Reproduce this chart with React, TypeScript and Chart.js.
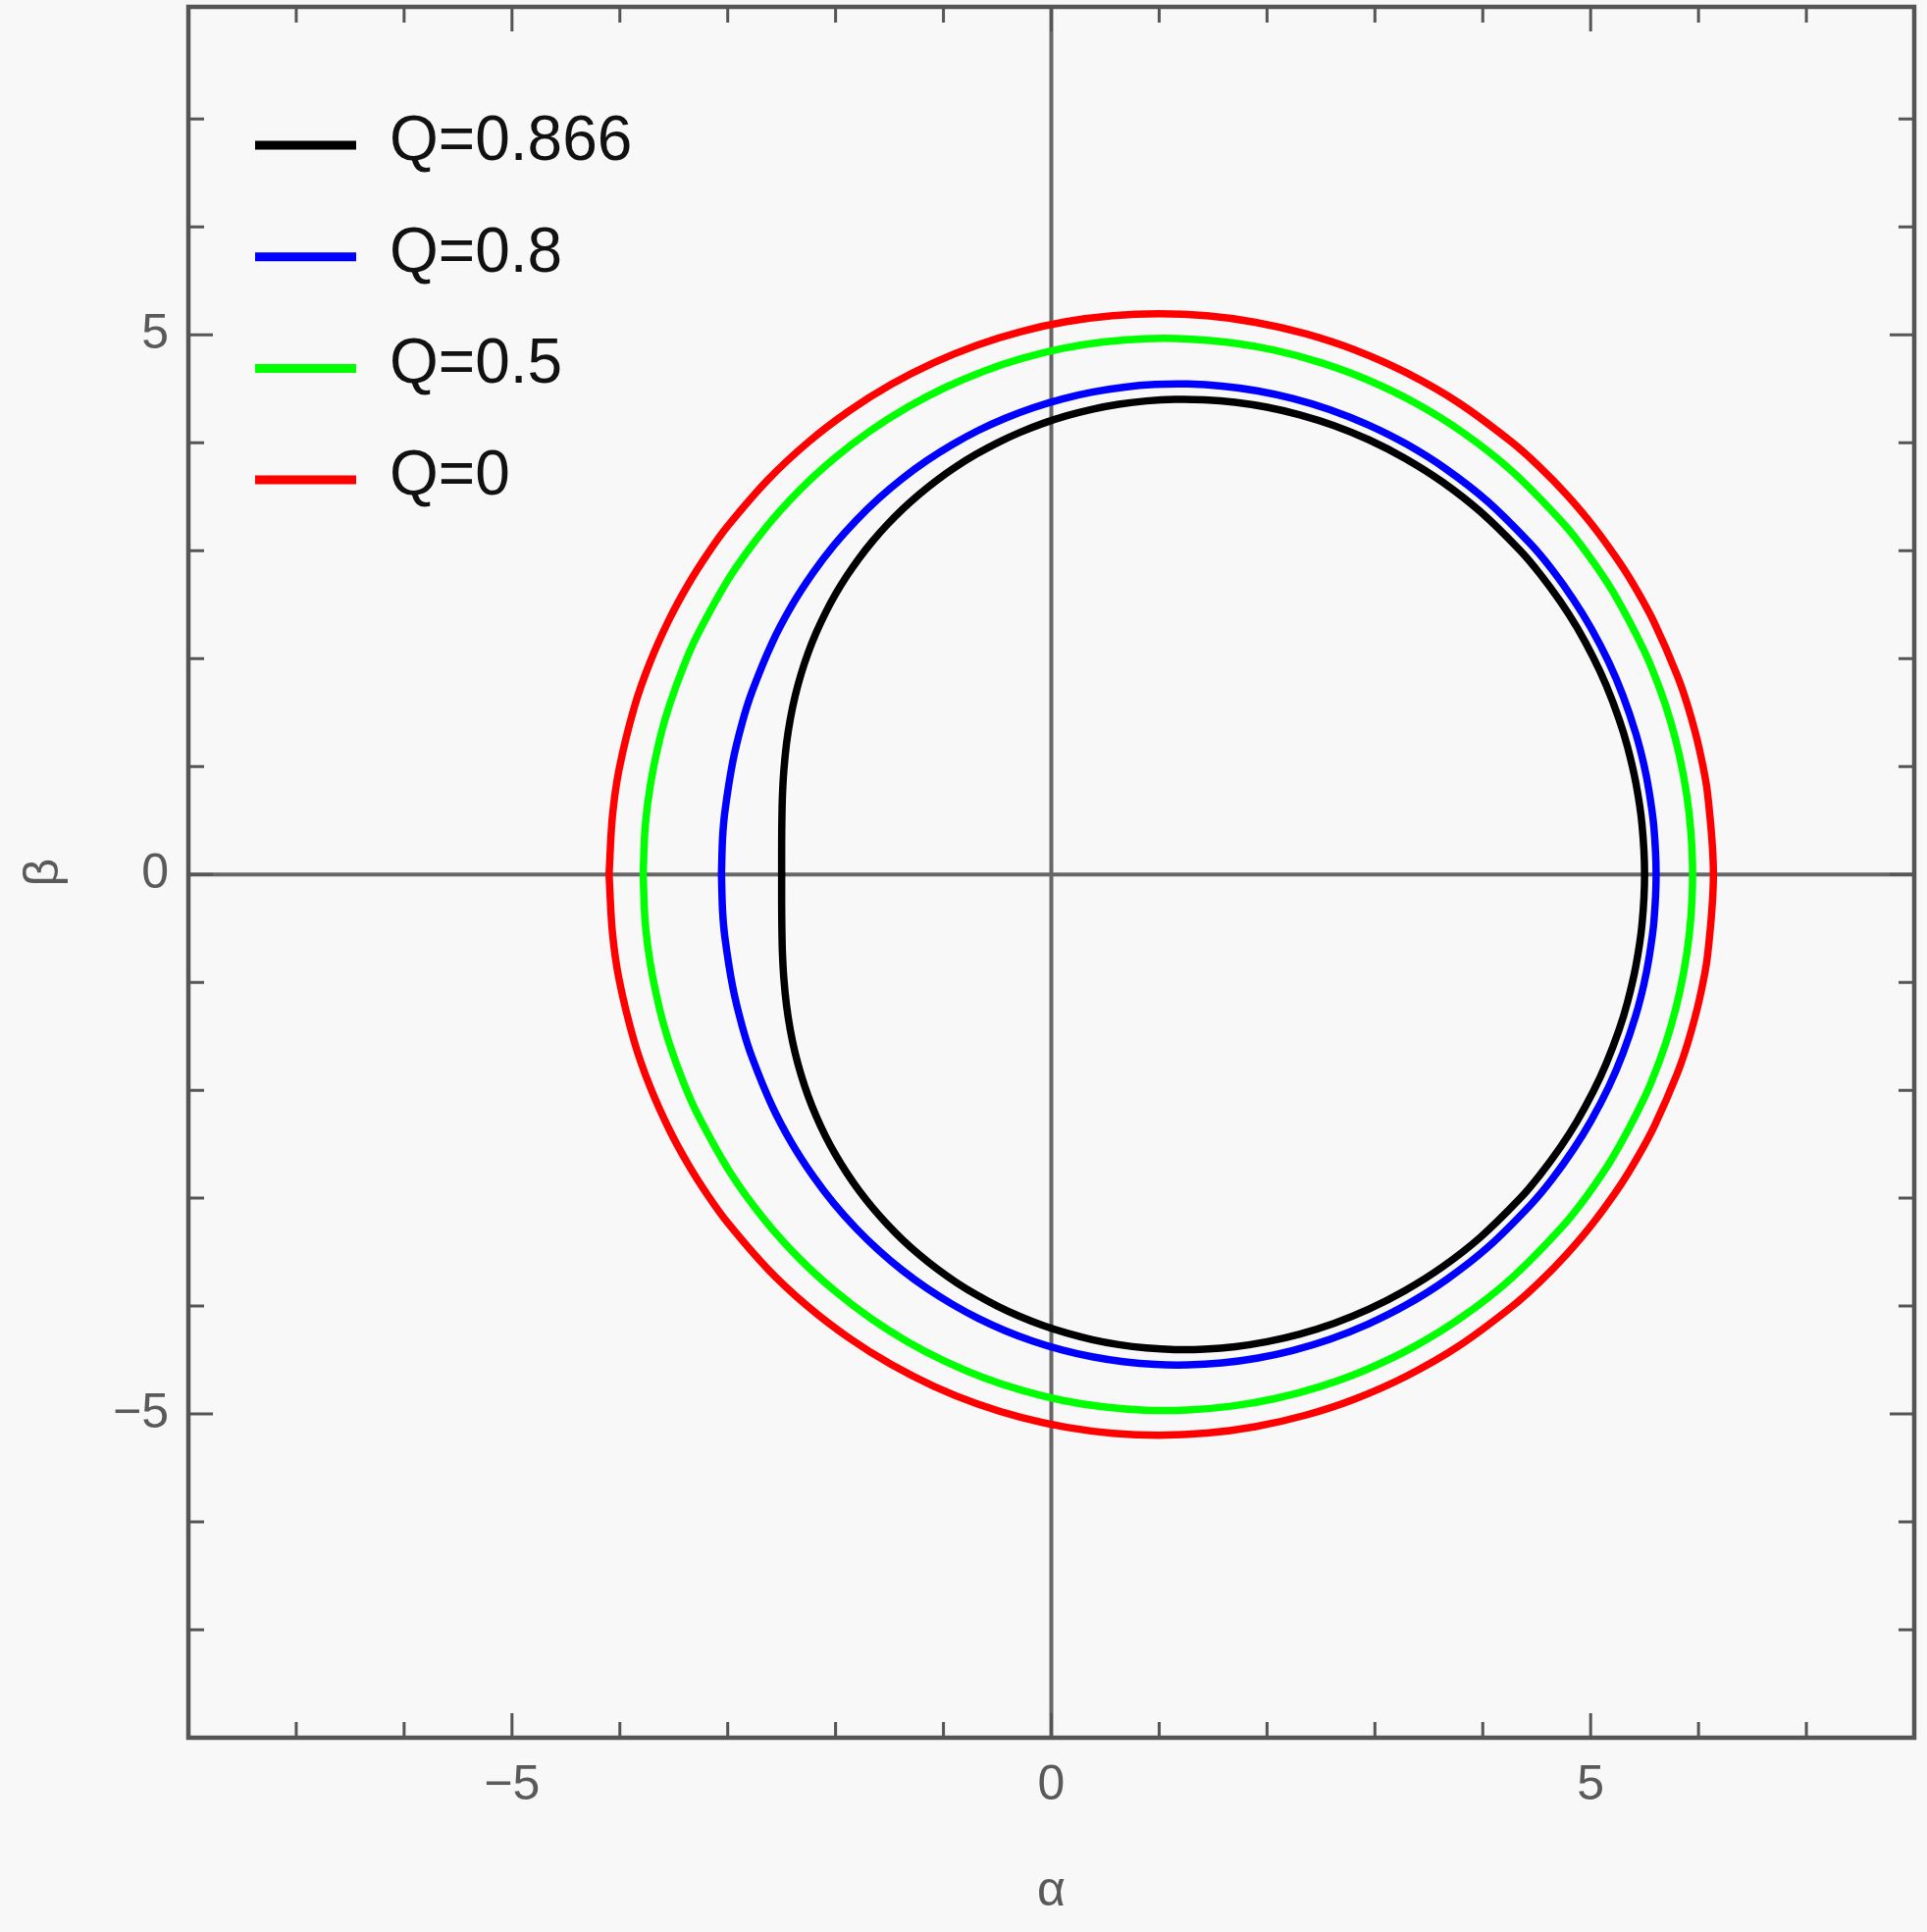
import React, { useEffect, useRef } from 'react';
import { Chart, registerables } from 'chart.js';

Chart.register(...registerables);

// ---- data (α, β); closed shadow contours ----
const seriesLabels = ['Q=0.866', 'Q=0.8', 'Q=0.5', 'Q=0'];
const seriesColors = ['#000000', '#0000ff', '#00ff00', '#ff0000'];

const curveQ0866: [number, number][] = [
  [-2.5, 0], [-2.5, 0.285], [-2.498, 0.501], [-2.493, 0.723], [-2.48, 0.959], [-2.455, 1.212], [-2.42, 1.44],
  [-2.375, 1.654], [-2.32, 1.857], [-2.255, 2.052], [-2.18, 2.24], [-2.095, 2.422], [-2.0, 2.598], [-1.895, 2.768],
  [-1.78, 2.933], [-1.655, 3.091], [-1.52, 3.243], [-1.375, 3.389], [-1.22, 3.527], [-1.055, 3.658], [-0.88, 3.781],
  [-0.695, 3.895], [-0.5, 4.0], [-0.295, 4.095], [-0.08, 4.179], [0.145, 4.251], [0.38, 4.311], [0.625, 4.357],
  [0.88, 4.388], [1.145, 4.403], [1.42, 4.399], [1.705, 4.376], [2.0, 4.33], [2.305, 4.259], [2.62, 4.16],
  [2.945, 4.028], [3.28, 3.856], [3.625, 3.638], [3.98, 3.36], [4.345, 3.003], [4.531, 2.784], [4.72, 2.528],
  [4.873, 2.289], [5.027, 2.006], [5.144, 1.753], [5.262, 1.444], [5.341, 1.186], [5.42, 0.844], [5.476, 0.464],
  [5.5, 0],
  [5.476, -0.464], [5.42, -0.844], [5.341, -1.186], [5.262, -1.444], [5.144, -1.753], [5.027, -2.006], [4.873, -2.289],
  [4.72, -2.528], [4.531, -2.784], [4.345, -3.003], [3.98, -3.36], [3.625, -3.638], [3.28, -3.856], [2.945, -4.028],
  [2.62, -4.16], [2.305, -4.259], [2.0, -4.33], [1.705, -4.376], [1.42, -4.399], [1.145, -4.403], [0.88, -4.388],
  [0.625, -4.357], [0.38, -4.311], [0.145, -4.251], [-0.08, -4.179], [-0.295, -4.095], [-0.5, -4.0], [-0.695, -3.895],
  [-0.88, -3.781], [-1.055, -3.658], [-1.22, -3.527], [-1.375, -3.389], [-1.52, -3.243], [-1.655, -3.091], [-1.78, -2.933],
  [-1.895, -2.768], [-2.0, -2.598], [-2.095, -2.422], [-2.18, -2.24], [-2.255, -2.052], [-2.32, -1.857], [-2.375, -1.654],
  [-2.42, -1.44], [-2.455, -1.212], [-2.48, -0.959], [-2.493, -0.723], [-2.498, -0.501], [-2.5, -0.285], [-2.5, 0],
];

const curveQ08: [number, number][] = [
  [-3.058, 0], [-3.048, 0.333], [-3.026, 0.584], [-2.953, 1.045], [-2.863, 1.416], [-2.772, 1.701], [-2.589, 2.145],
  [-2.402, 2.498], [-2.21, 2.794], [-2.013, 3.053], [-1.809, 3.281], [-1.598, 3.486], [-1.38, 3.67], [-1.154, 3.835],
  [-0.92, 3.982], [-0.678, 4.114], [-0.427, 4.228], [-0.167, 4.326], [0.102, 4.407], [0.379, 4.47], [0.666, 4.515],
  [0.962, 4.541], [1.267, 4.545], [1.581, 4.526], [1.905, 4.483], [2.238, 4.411], [2.581, 4.308], [2.934, 4.168],
  [3.296, 3.986], [3.667, 3.752], [4.048, 3.454], [4.439, 3.067], [4.639, 2.829], [4.84, 2.548], [5.003, 2.284],
  [5.168, 1.967], [5.3, 1.656], [5.417, 1.311], [5.493, 1.021], [5.543, 0.763], [5.586, 0.442], [5.607, 0],
  [5.586, -0.442], [5.543, -0.763], [5.493, -1.021], [5.417, -1.311], [5.3, -1.656], [5.168, -1.967], [5.003, -2.284],
  [4.84, -2.548], [4.639, -2.829], [4.439, -3.067], [4.048, -3.454], [3.667, -3.752], [3.296, -3.986], [2.934, -4.168],
  [2.581, -4.308], [2.238, -4.411], [1.905, -4.483], [1.581, -4.526], [1.267, -4.545], [0.962, -4.541], [0.666, -4.515],
  [0.379, -4.47], [0.102, -4.407], [-0.167, -4.326], [-0.427, -4.228], [-0.678, -4.114], [-0.92, -3.982], [-1.154, -3.835],
  [-1.38, -3.67], [-1.598, -3.486], [-1.809, -3.281], [-2.013, -3.053], [-2.21, -2.794], [-2.402, -2.498], [-2.589, -2.145],
  [-2.772, -1.701], [-2.863, -1.416], [-2.953, -1.045], [-3.026, -0.584], [-3.048, -0.333], [-3.058, 0],
];

const curveQ05: [number, number][] = [
  [-3.784, 0], [-3.765, 0.446], [-3.716, 0.836], [-3.625, 1.273], [-3.533, 1.59], [-3.41, 1.927], [-3.287, 2.207],
  [-2.975, 2.765], [-2.659, 3.2], [-2.337, 3.558], [-2.009, 3.858], [-1.674, 4.114], [-1.333, 4.33], [-0.985, 4.512],
  [-0.63, 4.663], [-0.267, 4.783], [0.104, 4.874], [0.482, 4.934], [0.869, 4.965], [1.264, 4.963], [1.667, 4.928],
  [2.079, 4.856], [2.5, 4.743], [2.929, 4.585], [3.368, 4.373], [3.815, 4.096], [4.271, 3.737], [4.736, 3.265],
  [4.972, 2.969], [5.21, 2.614], [5.499, 2.068], [5.645, 1.71], [5.743, 1.412], [5.826, 1.088], [5.89, 0.743],
  [5.929, 0.4], [5.945, 0],
  [5.929, -0.4], [5.89, -0.743], [5.826, -1.088], [5.743, -1.412], [5.645, -1.71], [5.499, -2.068], [5.21, -2.614],
  [4.972, -2.969], [4.736, -3.265], [4.271, -3.737], [3.815, -4.096], [3.368, -4.373], [2.929, -4.585], [2.5, -4.743],
  [2.079, -4.856], [1.667, -4.928], [1.264, -4.963], [0.869, -4.965], [0.482, -4.934], [0.104, -4.874], [-0.267, -4.783],
  [-0.63, -4.663], [-0.985, -4.512], [-1.333, -4.33], [-1.674, -4.114], [-2.009, -3.858], [-2.337, -3.558], [-2.659, -3.2],
  [-2.975, -2.765], [-3.287, -2.207], [-3.41, -1.927], [-3.533, -1.59], [-3.625, -1.273], [-3.716, -0.836], [-3.765, -0.446],
  [-3.784, 0],
];

const curveQ0: [number, number][] = [
  [-4.1, 0], [-4.07, 0.527], [-4.007, 0.974], [-3.865, 1.553], [-3.723, 1.959], [-3.544, 2.36], [-3.364, 2.691],
  [-3.183, 2.976], [-3.0, 3.228], [-2.631, 3.654], [-2.255, 4.005], [-1.873, 4.297], [-1.485, 4.541], [-1.089, 4.743],
  [-0.687, 4.906], [-0.277, 5.032], [0.141, 5.123], [0.567, 5.178], [1.0, 5.196], [1.442, 5.177], [1.891, 5.117],
  [2.35, 5.013], [2.816, 4.86], [3.292, 4.649], [3.776, 4.371], [4.268, 4.007], [4.518, 3.785], [4.77, 3.528],
  [5.024, 3.228], [5.281, 2.872], [5.435, 2.621], [5.591, 2.331], [5.8, 1.852], [5.905, 1.546], [6.01, 1.151],
  [6.084, 0.75], [6.138, 0],
  [6.084, -0.75], [6.01, -1.151], [5.905, -1.546], [5.8, -1.852], [5.591, -2.331], [5.435, -2.621], [5.281, -2.872],
  [5.024, -3.228], [4.77, -3.528], [4.518, -3.785], [4.268, -4.007], [3.776, -4.371], [3.292, -4.649], [2.816, -4.86],
  [2.35, -5.013], [1.891, -5.117], [1.442, -5.177], [1.0, -5.196], [0.567, -5.178], [0.141, -5.123], [-0.277, -5.032],
  [-0.687, -4.906], [-1.089, -4.743], [-1.485, -4.541], [-1.873, -4.297], [-2.255, -4.005], [-2.631, -3.654], [-3.0, -3.228],
  [-3.183, -2.976], [-3.364, -2.691], [-3.544, -2.36], [-3.723, -1.959], [-3.865, -1.553], [-4.007, -0.974], [-4.07, -0.527],
  [-4.1, 0],
];

const seriesCurves = [curveQ0866, curveQ08, curveQ05, curveQ0];

const xTickLabels = [-5, 0, 5];
const yTickLabels = [-5, 0, 5];
const minorTickValues = [-7, -6, -5, -4, -3, -2, -1, 0, 1, 2, 3, 4, 5, 6, 7];
const majorTickValues = [-5, 0, 5];
const xAxisTitle = 'α';
const yAxisTitle = 'β';

const FONT = '"Liberation Sans", Arial, sans-serif';
const FRAME_COLOR = '#555555';
const AXIS_COLOR = '#666666';
const LABEL_COLOR = '#5a5a5a';

const fmt = (v: number) => String(v).replace('-', '\u2212');

const mmaPlugin = {
  id: 'mmaFrame',
  beforeDatasetsDraw(chart: any) {
    const { ctx, chartArea: ca, scales } = chart;
    const x0 = scales.x.getPixelForValue(0);
    const y0 = scales.y.getPixelForValue(0);
    ctx.save();
    ctx.strokeStyle = AXIS_COLOR;
    ctx.lineWidth = 4;
    ctx.beginPath();
    ctx.moveTo(x0, ca.top);
    ctx.lineTo(x0, ca.bottom);
    ctx.moveTo(ca.left, y0);
    ctx.lineTo(ca.right, y0);
    ctx.stroke();
    ctx.restore();
  },
  afterDatasetsDraw(chart: any) {
    const { ctx, chartArea: ca, scales } = chart;
    ctx.save();
    // ticks on all four sides, inward
    ctx.strokeStyle = FRAME_COLOR;
    ctx.lineWidth = 3;
    ctx.beginPath();
    minorTickValues.forEach((v) => {
      const len = majorTickValues.includes(v) ? 25 : 16;
      const px = scales.x.getPixelForValue(v);
      ctx.moveTo(px, ca.bottom);
      ctx.lineTo(px, ca.bottom - len);
      ctx.moveTo(px, ca.top);
      ctx.lineTo(px, ca.top + len);
      const py = scales.y.getPixelForValue(v);
      ctx.moveTo(ca.left, py);
      ctx.lineTo(ca.left + len, py);
      ctx.moveTo(ca.right, py);
      ctx.lineTo(ca.right - len, py);
    });
    ctx.stroke();
    // frame
    ctx.lineWidth = 4.5;
    ctx.strokeRect(ca.left, ca.top, ca.right - ca.left, ca.bottom - ca.top);

    // legend
    const legX = ca.left + 68;
    const legLen = 103;
    const legTop = ca.top + 141;
    const legStep = 113.7;
    chart.data.datasets.forEach((ds: any, i: number) => {
      const y = legTop + i * legStep;
      ctx.strokeStyle = ds.borderColor;
      ctx.lineWidth = 9;
      ctx.lineCap = 'butt';
      ctx.beginPath();
      ctx.moveTo(legX, y);
      ctx.lineTo(legX + legLen, y);
      ctx.stroke();
      ctx.fillStyle = '#111111';
      ctx.font = `64px ${FONT}`;
      ctx.textAlign = 'left';
      ctx.textBaseline = 'alphabetic';
      ctx.fillText(ds.label, legX + legLen + 34, y + 15);
    });
    ctx.restore();
  },
};

export default function App() {
  const canvasRef = useRef<HTMLCanvasElement | null>(null);

  useEffect(() => {
    const canvas = canvasRef.current;
    if (!canvas) return;
    const datasets = seriesCurves.map((curve, i) => ({
      label: seriesLabels[i],
      data: curve.map(([a, b]) => ({ x: a, y: b })),
      borderColor: seriesColors[i],
      backgroundColor: seriesColors[i],
      borderWidth: 7.5,
      borderJoinStyle: 'round',
      pointRadius: 0,
      pointHoverRadius: 0,
      fill: false,
      tension: 0.3,
      cubicInterpolationMode: 'default',
    }));

    const chart = new Chart(canvas, {
      type: 'line',
      data: { datasets },
      options: {
        responsive: false,
        animation: false,
        devicePixelRatio: 1,
        layout: { padding: { left: 0, right: 13, top: 7, bottom: 0 } },
        plugins: {
          legend: { display: false },
          tooltip: { enabled: false },
        },
        events: [],
        scales: {
          x: {
            type: 'linear',
            min: -8,
            max: 8,
            grid: { display: false, drawTicks: false, tickLength: 0 },
            border: { display: false },
            ticks: {
              padding: 19,
              color: LABEL_COLOR,
              font: { family: FONT, size: 50 },
              maxRotation: 0,
              callback: (v: any) => fmt(Number(v)),
            },
            afterBuildTicks: (scale: any) => {
              scale.ticks = xTickLabels.map((v) => ({ value: v }));
            },
            afterFit: (scale: any) => {
              scale.height = 198;
              scale.paddingLeft = 0;
              scale.paddingRight = 0;
              scale.paddingTop = 0;
              scale.paddingBottom = 0;
            },
            title: {
              display: true,
              text: xAxisTitle,
              color: LABEL_COLOR,
              font: { family: FONT, size: 50 },
              padding: { top: 0, bottom: 11 },
            },
          },
          y: {
            type: 'linear',
            min: -8,
            max: 8.04,
            grid: { display: false, drawTicks: false, tickLength: 0 },
            border: { display: false },
            ticks: {
              padding: 20,
              color: LABEL_COLOR,
              font: { family: FONT, size: 50 },
              callback: (v: any) => fmt(Number(v)),
            },
            afterBuildTicks: (scale: any) => {
              scale.ticks = yTickLabels.map((v) => ({ value: v }));
            },
            afterFit: (scale: any) => {
              scale.width = 192;
              scale.paddingLeft = 0;
              scale.paddingRight = 0;
              scale.paddingTop = 0;
              scale.paddingBottom = 0;
            },
            title: {
              display: true,
              text: yAxisTitle,
              color: LABEL_COLOR,
              font: { family: FONT, size: 50 },
              padding: { top: 15, bottom: 0 },
            },
          },
        },
      },
      plugins: [mmaPlugin],
    } as any);

    return () => {
      chart.destroy();
    };
  }, []);

  return (
    <div
      style={{
        position: 'fixed',
        left: 0,
        top: 0,
        width: 1964,
        height: 1969,
        background: '#f8f8f8',
        overflow: 'hidden',
      }}
    >
      <canvas ref={canvasRef} width={1964} height={1969} style={{ display: 'block', width: 1964, height: 1969 }} />
    </div>
  );
}
